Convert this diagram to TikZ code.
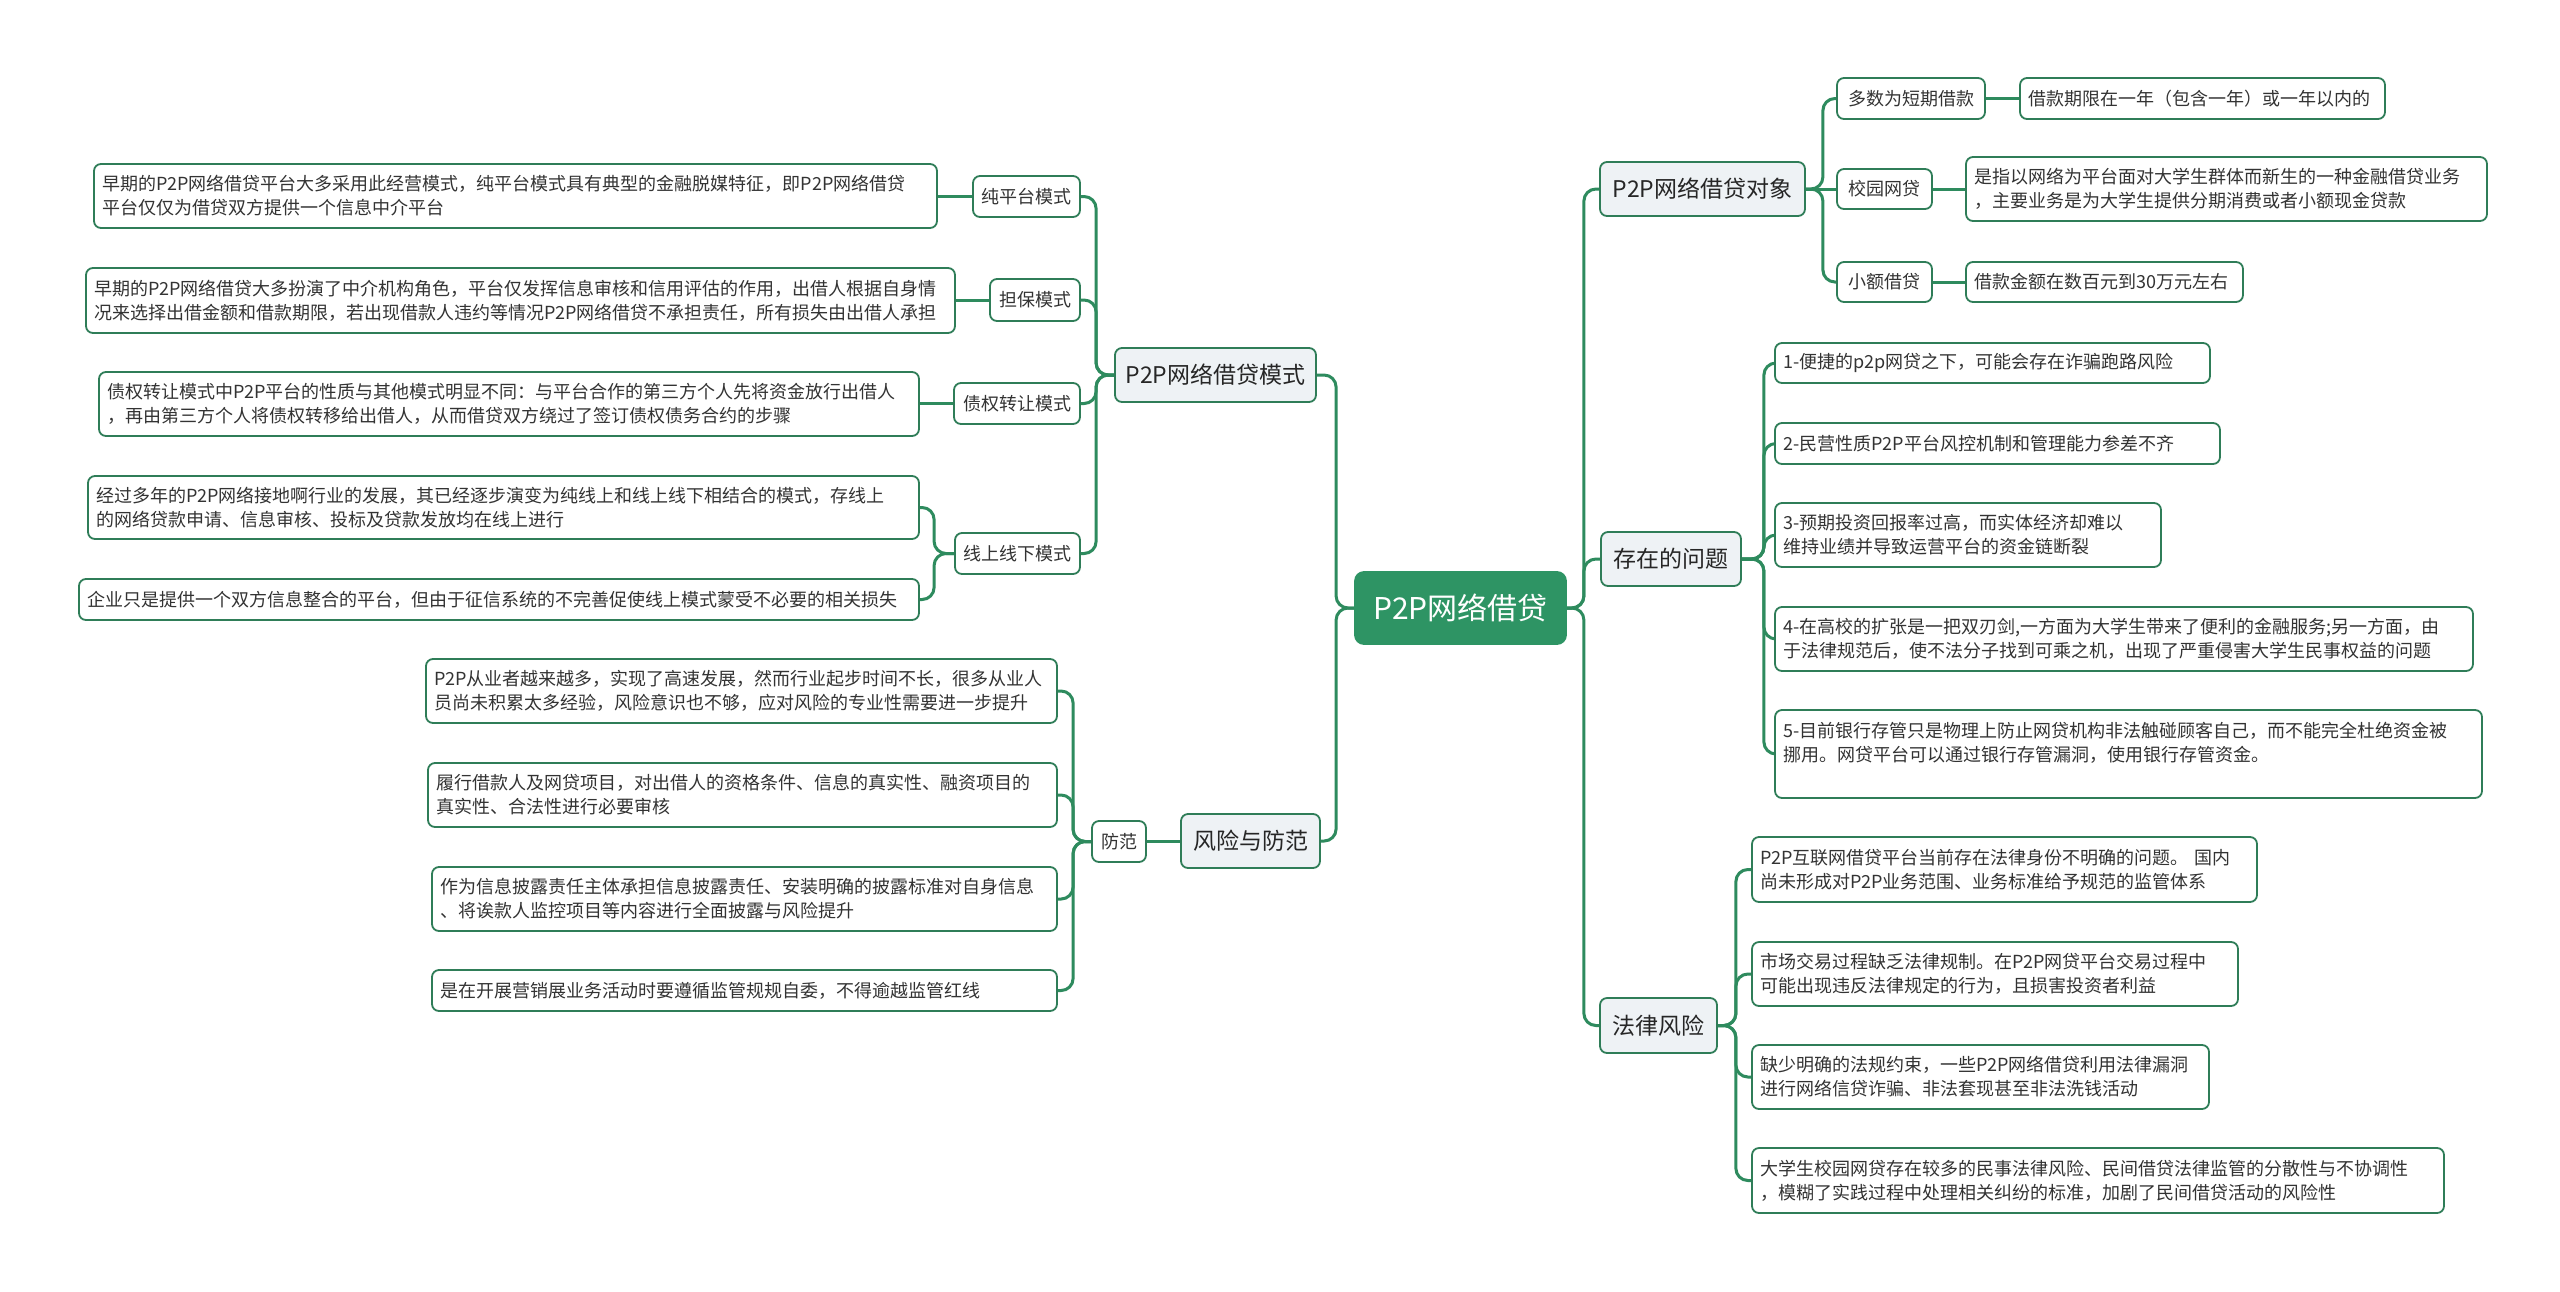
\documentclass[tikz,border=0pt]{standalone}
\usepackage{fontspec}
\setmainfont{Noto Sans CJK SC}
\usetikzlibrary{calc}
\definecolor{lg}{HTML}{2E8B5E}
\definecolor{bd}{HTML}{2F7D58}
\definecolor{rootc}{HTML}{2E9464}
\definecolor{mainfill}{HTML}{EEF2F5}
\definecolor{txt}{HTML}{333333}
\pgfdeclarelayer{bg}
\pgfsetlayers{bg,main}
\tikzset{
  base/.style={draw=bd, line width=1.8pt, rounded corners=7pt, inner xsep=8pt, inner ysep=0pt, text=txt},
  leaf/.style={base, fill=white, align=left, font=\fontsize{18}{24}\selectfont},
  sub/.style={base, fill=white, align=center, font=\fontsize{18}{24}\selectfont},
  mainb/.style={base, fill=mainfill, align=center, text=black!85, font=\fontsize{23}{28}\selectfont},
  rootb/.style={base, draw=rootc, fill=rootc, text=white, align=center, rounded corners=9pt, font=\fontsize{30}{36}\selectfont},
  conn/.style={draw=lg, line width=3pt, rounded corners=12pt},
}
\newcommand{\putleaf}[6]{%
  \pgfmathsetmacro{\pbt}{#4-#2-16}%
  \pgfmathsetmacro{\pbh}{#5-#3}%
  \pgfmathsetmacro{\pbx}{(#2+#4)/2}%
  \pgfmathsetmacro{\pby}{(#3+#5)/2}%
  \node[leaf, text width=\pbt pt, minimum height=\pbh pt] (#1) at (\pbx,\pby) {#6};}
\newcommand{\putctr}[7][sub]{%
  \pgfmathsetmacro{\pbw}{#5-#3}%
  \pgfmathsetmacro{\pbh}{#6-#4}%
  \pgfmathsetmacro{\pbx}{(#3+#5)/2}%
  \pgfmathsetmacro{\pby}{(#4+#6)/2}%
  \node[#1, minimum width=\pbw pt, minimum height=\pbh pt] (#2) at (\pbx,\pby) {#7};}
\begin{document}
\begin{tikzpicture}[x=1pt, y=-1pt]
\begin{pgfonlayer}{bg}
\fill[white] (0,0) rectangle (2560,1291);
\end{pgfonlayer}
\useasboundingbox (0,0) rectangle (2560,1291);

% root and main branches
\putctr[rootb]{root}{1355}{572}{1566}{644}{P2P网络借贷}
\putctr[mainb]{m1}{1115}{348}{1316}{402}{P2P网络借贷模式}
\putctr[mainb]{m2}{1181}{814}{1320}{868}{风险与防范}
\putctr[mainb]{r1}{1600}{162}{1805}{216}{P2P网络借贷对象}
\putctr[mainb]{r2}{1601}{532}{1741}{586}{存在的问题}
\putctr[mainb]{r3}{1600}{998}{1717}{1053}{法律风险}

% left: P2P网络借贷模式
\putctr{s1}{973}{176}{1080}{217}{纯平台模式}
\putctr{s2}{990}{279}{1080}{321}{担保模式}
\putctr{s3}{954}{383}{1080}{424}{债权转让模式}
\putctr{s4}{955}{533}{1080}{574}{线上线下模式}
\putleaf{l1}{94}{164}{937}{228}{早期的P2P网络借贷平台大多采用此经营模式，纯平台模式具有典型的金融脱媒特征，即P2P网络借贷\\平台仅仅为借贷双方提供一个信息中介平台}
\putleaf{l2}{86}{268}{955}{333}{早期的P2P网络借贷大多扮演了中介机构角色，平台仅发挥信息审核和信用评估的作用，出借人根据自身情\\况来选择出借金额和借款期限，若出现借款人违约等情况P2P网络借贷不承担责任，所有损失由出借人承担}
\putleaf{l3}{99}{372}{919}{436}{债权转让模式中P2P平台的性质与其他模式明显不同：与平台合作的第三方个人先将资金放行出借人\\，再由第三方个人将债权转移给出借人，从而借贷双方绕过了签订债权债务合约的步骤}
\putleaf{l4}{88}{476}{919}{539}{经过多年的P2P网络接地啊行业的发展，其已经逐步演变为纯线上和线上线下相结合的模式，存线上\\的网络贷款申请、信息审核、投标及贷款发放均在线上进行}
\putleaf{l5}{79}{579}{919}{620}{企业只是提供一个双方信息整合的平台，但由于征信系统的不完善促使线上模式蒙受不必要的相关损失}

% left: 风险与防范
\putctr{fang}{1092}{821}{1146}{862}{防范}
\putleaf{f1}{426}{659}{1057}{723}{P2P从业者越来越多，实现了高速发展，然而行业起步时间不长，很多从业人\\员尚未积累太多经验，风险意识也不够，应对风险的专业性需要进一步提升}
\putleaf{f2}{428}{763}{1057}{827}{履行借款人及网贷项目，对出借人的资格条件、信息的真实性、融资项目的\\真实性、合法性进行必要审核}
\putleaf{f3}{432}{867}{1057}{931}{作为信息披露责任主体承担信息披露责任、安装明确的披露标准对自身信息\\、将诶款人监控项目等内容进行全面披露与风险提升}
\putleaf{f4}{432}{970}{1057}{1011}{是在开展营销展业务活动时要遵循监管规规自委，不得逾越监管红线}

% right: P2P网络借贷对象
\putctr{t1}{1837}{78}{1985}{119}{多数为短期借款}
\putctr{t2}{1837}{169}{1932}{209}{校园网贷}
\putctr{t3}{1837}{262}{1932}{302}{小额借贷}
\putleaf{a1}{2020}{78}{2385}{119}{借款期限在一年（包含一年）或一年以内的}
\putleaf{a2}{1966}{157}{2487}{221}{是指以网络为平台面对大学生群体而新生的一种金融借贷业务\\，主要业务是为大学生提供分期消费或者小额现金贷款}
\putleaf{a3}{1966}{262}{2243}{302}{借款金额在数百元到30万元左右}

% right: 存在的问题
\putleaf{b1}{1775}{343}{2210}{383}{1-便捷的p2p网贷之下，可能会存在诈骗跑路风险}
\putleaf{b2}{1775}{423}{2220}{464}{2-民营性质P2P平台风控机制和管理能力参差不齐}
\putleaf{b3}{1775}{503}{2161}{567}{3-预期投资回报率过高，而实体经济却难以\\维持业绩并导致运营平台的资金链断裂}
\putleaf{b4}{1775}{607}{2473}{671}{4-在高校的扩张是一把双刃剑,一方面为大学生带来了便利的金融服务;另一方面，由\\于法律规范后，使不法分子找到可乘之机，出现了严重侵害大学生民事权益的问题}
\putleaf{b5}{1775}{710}{2482}{798}{5-目前银行存管只是物理上防止网贷机构非法触碰顾客自己，而不能完全杜绝资金被\\挪用。网贷平台可以通过银行存管漏洞，使用银行存管资金。\\\mbox{}}

% right: 法律风险
\putleaf{c1}{1752}{837}{2257}{902}{P2P互联网借贷平台当前存在法律身份不明确的问题。 国内\\尚未形成对P2P业务范围、业务标准给予规范的监管体系}
\putleaf{c2}{1752}{942}{2238}{1006}{市场交易过程缺乏法律规制。在P2P网贷平台交易过程中\\可能出现违反法律规定的行为，且损害投资者利益}
\putleaf{c3}{1752}{1045}{2209}{1109}{缺少明确的法规约束，一些P2P网络借贷利用法律漏洞\\进行网络信贷诈骗、非法套现甚至非法洗钱活动}
\putleaf{c4}{1752}{1148}{2444}{1213}{大学生校园网贷存在较多的民事法律风险、民间借贷法律监管的分散性与不协调性\\，模糊了实践过程中处理相关纠纷的标准，加剧了民间借贷活动的风险性}

% connectors
\begin{pgfonlayer}{bg}
\foreach \c in {m1,m2} \draw[conn] (root.west) -- ++(-18,0) |- (\c.east);
\foreach \c in {r1,r2,r3} \draw[conn] (root.east) -- ++(17,0) |- (\c.west);
\foreach \c in {s1,s2,s3,s4} \draw[conn] (m1.west) -- ++(-18,0) |- (\c.east);
\draw[conn] (s1.west) -- (s1.west -| l1.east);
\draw[conn] (s2.west) -- (s2.west -| l2.east);
\draw[conn] (s3.west) -- (s3.west -| l3.east);
\foreach \c in {l4,l5} \draw[conn] (s4.west) -- ++(-20,0) |- (\c.east);
\draw[conn] (m2.west) -- (m2.west -| fang.east);
\foreach \c in {f1,f2,f3,f4} \draw[conn] (fang.west) -- ++(-18,0) |- (\c.east);
\foreach \c in {t1,t3} \draw[conn] (r1.east) -- ++(17,0) |- (\c.west);
\draw[conn] (r1.east) -- (r1.east -| t2.west);
\draw[conn] (t1.east) -- (t1.east -| a1.west);
\draw[conn] (t2.east) -- (t2.east -| a2.west);
\draw[conn] (t3.east) -- (t3.east -| a3.west);
\foreach \c in {b1,b2,b3,b4,b5} \draw[conn] (r2.east) -- ++(22,0) |- (\c.west);
\foreach \c in {c1,c2,c3,c4} \draw[conn] (r3.east) -- ++(18,0) |- (\c.west);
\end{pgfonlayer}
\end{tikzpicture}
\end{document}
